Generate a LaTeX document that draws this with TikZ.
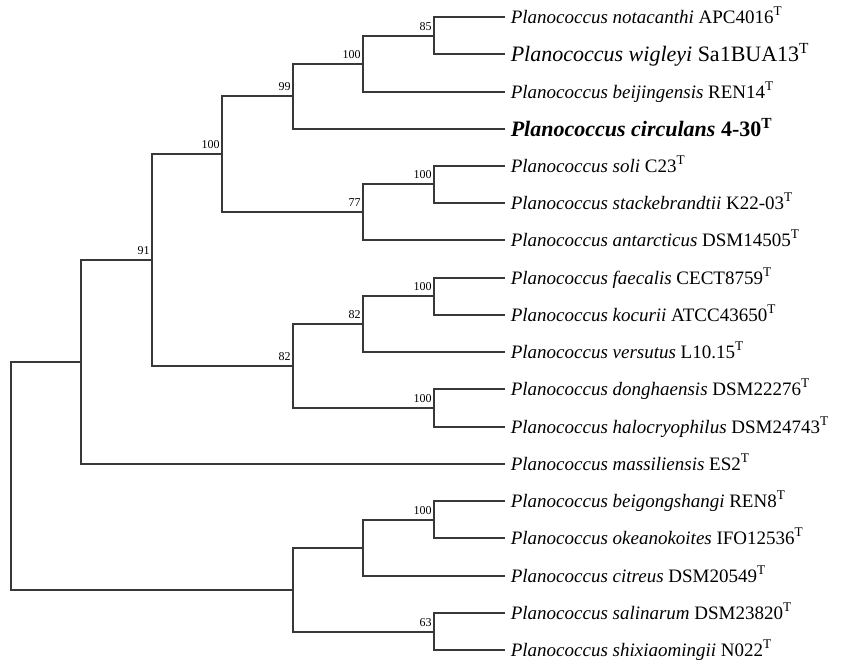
\documentclass[tikz,border=0pt]{standalone}
\usepackage{fontspec}
\setmainfont{Liberation Serif}

\begin{document}
\begin{tikzpicture}[x=0.5pt, y=-0.5pt,
    branch/.style={draw=black!78, line width=1pt},
    tip/.style={anchor=west, inner sep=2.7pt, text height=6.3pt, text depth=0pt,
                font=\fontsize{9.5}{11}\selectfont},
    bigtip/.style={tip, text height=7.3pt, font=\fontsize{11}{13}\selectfont},
    boot/.style={anchor=base east, inner sep=0pt, xshift=-1pt, yshift=2.7pt,
                 font=\fontsize{6}{7}\selectfont}]
  \useasboundingbox (0,0) rectangle (841,666);

  % folhas
  \node[tip] (t1) at (505,17) {\textit{Planococcus notacanthi} APC4016\textsuperscript{T}};
  \node[bigtip] (t2) at (505,54) {\textit{Planococcus wigleyi} Sa1BUA13\textsuperscript{T}};
  \node[tip] (t3) at (505,92) {\textit{Planococcus beijingensis} REN14\textsuperscript{T}};
  \node[bigtip] (t4) at (505,129) {\textbf{\textit{Planococcus circulans} 4-30\textsuperscript{T}}};
  \node[tip] (t5) at (505,166) {\textit{Planococcus soli} C23\textsuperscript{T}};
  \node[tip] (t6) at (505,203) {\textit{Planococcus stackebrandtii} K22-03\textsuperscript{T}};
  \node[tip] (t7) at (505,240) {\textit{Planococcus antarcticus} DSM14505\textsuperscript{T}};
  \node[tip] (t8) at (505,278) {\textit{Planococcus\ faecalis}\ CECT8759\textsuperscript{T}};
  \node[tip] (t9) at (505,315) {\textit{Planococcus\ kocurii}\ ATCC43650\textsuperscript{T}};
  \node[tip] (t10) at (505,352) {\textit{Planococcus\ versutus}\ L10.15\textsuperscript{T}};
  \node[tip] (t11) at (505,389) {\textit{Planococcus donghaensis} DSM22276\textsuperscript{T}};
  \node[tip] (t12) at (505,427) {\textit{Planococcus halocryophilus} DSM24743\textsuperscript{T}};
  \node[tip] (t13) at (505,464) {\textit{Planococcus\ massiliensis}\ ES2\textsuperscript{T}};
  \node[tip] (t14) at (505,501) {\textit{Planococcus\ beigongshangi}\ REN8\textsuperscript{T}};
  \node[tip] (t15) at (505,538) {\textit{Planococcus okeanokoites} IFO12536\textsuperscript{T}};
  \node[tip] (t16) at (505,576) {\textit{Planococcus\ citreus}\ DSM20549\textsuperscript{T}};
  \node[tip] (t17) at (505,613) {\textit{Planococcus salinarum} DSM23820\textsuperscript{T}};
  \node[tip] (t18) at (505,650) {\textit{Planococcus shixiaomingii} N022\textsuperscript{T}};

  % nos internos
  \coordinate (nA) at (434,36);
  \coordinate (nB) at (363,64);
  \coordinate (nC) at (293,96);
  \coordinate (nG) at (434,184);
  \coordinate (nE) at (363,212);
  \coordinate (nD) at (222,154);
  \coordinate (nK) at (434,296);
  \coordinate (nI) at (363,324);
  \coordinate (nJ) at (434,408);
  \coordinate (nH) at (293,366);
  \coordinate (nF) at (152,260);
  \coordinate (nL) at (81,362);
  \coordinate (nP) at (434,520);
  \coordinate (nN) at (363,548);
  \coordinate (nO) at (434,632);
  \coordinate (nM) at (293,590);
  \coordinate (root) at (11,476);

  % ramos
  \draw[branch] (nA) |- (t1.west) (nA) |- (t2.west);
  \draw[branch] (nB) |- (nA) (nB) |- (t3.west);
  \draw[branch] (nC) |- (nB) (nC) |- (t4.west);
  \draw[branch] (nG) |- (t5.west) (nG) |- (t6.west);
  \draw[branch] (nE) |- (nG) (nE) |- (t7.west);
  \draw[branch] (nD) |- (nC) (nD) |- (nE);
  \draw[branch] (nK) |- (t8.west) (nK) |- (t9.west);
  \draw[branch] (nI) |- (nK) (nI) |- (t10.west);
  \draw[branch] (nJ) |- (t11.west) (nJ) |- (t12.west);
  \draw[branch] (nH) |- (nI) (nH) |- (nJ);
  \draw[branch] (nF) |- (nD) (nF) |- (nH);
  \draw[branch] (nL) |- (nF) (nL) |- (t13.west);
  \draw[branch] (nP) |- (t14.west) (nP) |- (t15.west);
  \draw[branch] (nN) |- (nP) (nN) |- (t16.west);
  \draw[branch] (nO) |- (t17.west) (nO) |- (t18.west);
  \draw[branch] (nM) |- (nN) (nM) |- (nO);
  \draw[branch] (root) |- (nL) (root) |- (nM);

  % bootstrap
  \node[boot] (bA) at (nA) {85};
  \node[boot] (bB) at (nB) {100};
  \node[boot] (bC) at (nC) {99};
  \node[boot] (bD) at (nD) {100};
  \node[boot] (bG) at (nG) {100};
  \node[boot] (bE) at (nE) {77};
  \node[boot] (bF) at (nF) {91};
  \node[boot] (bK) at (nK) {100};
  \node[boot] (bI) at (nI) {82};
  \node[boot] (bJ) at (nJ) {100};
  \node[boot] (bH) at (nH) {82};
  \node[boot] (bP) at (nP) {100};
  \node[boot] (bO) at (nO) {63};
\end{tikzpicture}
\end{document}
